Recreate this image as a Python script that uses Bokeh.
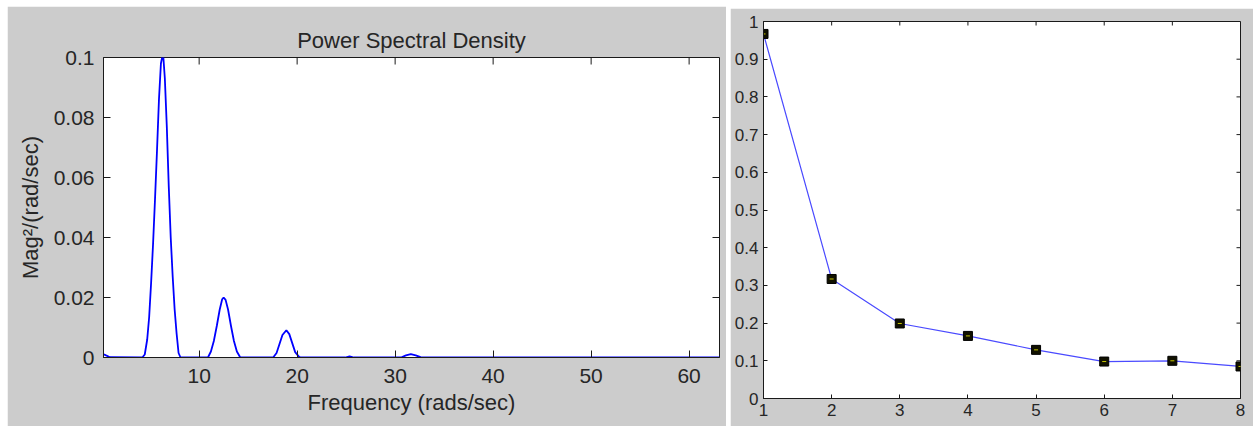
import math
from bokeh.plotting import figure
from bokeh.models import Range1d, FixedTicker, Spacer
from bokeh.layouts import row, column
from bokeh.embed import file_html
from bokeh.resources import INLINE

# ---- Left chart: Power Spectral Density ----
psd_freq = [0.24, 0.5, 0.9, 4.2, 4.45, 4.7, 4.9, 5.1, 5.3, 5.5, 5.7, 5.9, 6.1, 6.25, 6.35,
            6.5, 6.7, 6.9, 7.1, 7.3, 7.5, 7.7, 7.9, 8.1,
            10.9, 11.2, 11.5, 11.8, 12.1, 12.35, 12.5, 12.7, 12.95, 13.25, 13.55, 13.85, 14.2,
            17.55, 17.9, 18.2, 18.5, 18.9, 19.2, 19.5, 19.8, 20.2, 20.4,
            24.9, 25.35, 25.8,
            30.6, 31.1, 31.6, 32.1, 32.6, 33.0, 63.1]
psd_mag = [0.0011, 0.0007, 0.0001, 0.0, 0.001, 0.006, 0.0135, 0.025, 0.038, 0.053, 0.069, 0.086, 0.098, 0.1005, 0.1,
           0.093, 0.077, 0.057, 0.040, 0.027, 0.016, 0.008, 0.0015, 0.0,
           0.0, 0.002, 0.0055, 0.0105, 0.016, 0.0194, 0.0200, 0.0192, 0.016, 0.0105, 0.0055, 0.002, 0.0,
           0.0, 0.0015, 0.0045, 0.0075, 0.0091, 0.0078, 0.0048, 0.0018, 0.0002, 0.0,
           0.0, 0.0004, 0.0,
           0.0, 0.0007, 0.0011, 0.0007, 0.0001, 0.0, 0.0]
psd_xticks = [10, 20, 30, 40, 50, 60]
psd_yticks = [0, 0.02, 0.04, 0.06, 0.08, 0.1]
psd_ytick_labels = ["0", "0.02", "0.04", "0.06", "0.08", "0.1"]

# ---- Right chart ----
idx = [1, 2, 3, 4, 5, 6, 7, 8]
vals = [0.967, 0.317, 0.199, 0.166, 0.129, 0.098, 0.100, 0.085]
r_yticks = [0, 0.1, 0.2, 0.3, 0.4, 0.5, 0.6, 0.7, 0.8, 0.9, 1.0]
r_ytick_labels = ["0", "0.1", "0.2", "0.3", "0.4", "0.5", "0.6", "0.7", "0.8", "0.9", "1"]

FONT = "Liberation Sans"
GRAY = "#cccccc"
TXT = "#262626"
AX = "#1a1a1a"


def style_axis(ax, ticks, size, tick_len, overrides=None, standoff=8):
    ax.ticker = FixedTicker(ticks=ticks)
    ax.major_tick_in = tick_len
    ax.major_tick_out = 0
    ax.minor_tick_in = 0
    ax.minor_tick_out = 0
    ax.axis_line_color = AX
    ax.major_tick_line_color = AX
    ax.major_label_text_font = FONT
    ax.major_label_text_color = TXT
    ax.axis_label_text_font = FONT
    ax.axis_label_text_color = TXT
    ax.axis_label_text_font_style = "normal"
    ax.major_label_text_font_size = size
    ax.major_label_standoff = standoff
    if overrides:
        ax.major_label_overrides = overrides


def inner_ticks(fig, xticks, ytop, yticks, xright, length):
    # ticks pointing inward from the top and right edges of the frame
    fig.ray(x=xticks, y=[ytop] * len(xticks), length=length, length_units="screen",
            angle=-math.pi / 2, line_color=AX, line_width=1)
    fig.ray(x=[xright] * len(yticks), y=yticks, length=length, length_units="screen",
            angle=math.pi, line_color=AX, line_width=1)


p = figure(width=719, height=420, x_range=Range1d(0.24, 63.1), y_range=Range1d(0, 0.1),
           output_backend="svg", toolbar_location=None,
           min_border_left=96, min_border_right=7, min_border_top=51, min_border_bottom=69)
p.background_fill_color = "white"
p.border_fill_color = GRAY
p.outline_line_color = AX
p.grid.visible = False
p.title.text = "Power Spectral Density"
p.title.text_font = FONT
p.title.text_font_size = "22px"
p.title.text_font_style = "normal"
p.title.text_color = TXT
p.title.align = "center"

style_axis(p.xaxis[0], psd_xticks, "21px", 7, standoff=11)
p.xaxis[0].axis_label = "Frequency (rads/sec)"
p.xaxis[0].axis_label_text_font_size = "22px"
p.xaxis[0].axis_label_standoff = 4
style_axis(p.yaxis[0], psd_yticks, "21px", 7,
           overrides={t: l for t, l in zip(psd_yticks, psd_ytick_labels)}, standoff=9)
p.yaxis[0].axis_label = "Mag\u00b2/(rad/sec)"
p.yaxis[0].axis_label_text_font_size = "22px"
p.yaxis[0].axis_label_standoff = 8

inner_ticks(p, psd_xticks, p.y_range.end, psd_yticks, p.x_range.end, 7)
p.line(psd_freq, psd_mag, line_color="#0000ff", line_width=1.8)

# ---- Right figure ----
q = figure(width=523, height=418, x_range=Range1d(1, 8), y_range=Range1d(0, 1),
           output_backend="svg", toolbar_location=None,
           min_border_left=33, min_border_right=13, min_border_top=13, min_border_bottom=28)
q.background_fill_color = "white"
q.border_fill_color = GRAY
q.outline_line_color = AX
q.grid.visible = False
style_axis(q.xaxis[0], idx, "17px", 4, standoff=5)
style_axis(q.yaxis[0], r_yticks, "17px", 4,
           overrides={t: l for t, l in zip(r_yticks, r_ytick_labels)}, standoff=5)
inner_ticks(q, idx, q.y_range.end, r_yticks, q.x_range.end, 4)

q.line(idx, vals, line_color="#4a4aff", line_width=1.2)
q.scatter(idx, vals, marker="square", size=9, fill_color="#111100", line_color="#000000")
q.scatter(idx, vals, marker="dash", size=4, line_color="#c8c800", line_width=1)

layout = row(
    Spacer(width=7),
    column(Spacer(height=6), p),
    Spacer(width=4),
    column(Spacer(height=8), q),
)

open("out.html", "w").write(file_html(layout, INLINE))
